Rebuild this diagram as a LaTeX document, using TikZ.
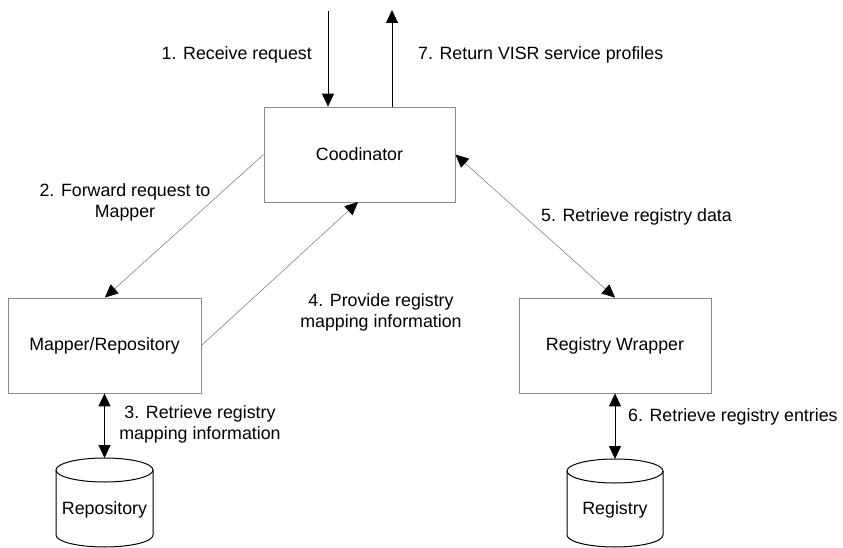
\documentclass[tikz,border=0pt]{standalone}
\usepackage{fontspec}
\setmainfont{Liberation Sans}
\usetikzlibrary{arrows.meta}
\begin{document}
\begin{tikzpicture}[x=1pt,y=-1pt,
  every node/.style={font=\fontsize{17.8}{21}\selectfont},
  box/.style={draw=black!45,line width=0.8pt,rectangle,inner sep=0pt},
  tip/.style={-{Triangle[length=13pt,width=12pt,color=black]}},
  bitip/.style={{Triangle[length=13pt,width=12pt,color=black]}-{Triangle[length=13pt,width=12pt,color=black]}},
  strong/.style={black,line width=1pt},
  faint/.style={draw=black!55,line width=0.5pt},
  lbl/.style={inner sep=0pt,align=center},
  db/.style={black,line width=1pt}]
\useasboundingbox (0,0) rectangle (843,548);

% processing components
\node[box,minimum width=191pt,minimum height=95pt] (coord) at (359.5,154.5) {Coodinator};
\node[box,minimum width=193pt,minimum height=95pt] (mapper) at (104.5,345.5) {Mapper/Repository};
\node[box,minimum width=192pt,minimum height=95pt] (wrapper) at (615,345.5) {Registry Wrapper};

% data stores drawn as cylinders
\draw[db] (56,470) -- (56,535) arc[start angle=180,end angle=360,x radius=48.5pt,y radius=12pt] -- (153,470);
\draw[db] (104.5,470) ellipse[x radius=48.5pt,y radius=12pt];
\coordinate (repotop) at (104.5,458);
\node[lbl] (repo) at (104.5,510) {Repository};

\draw[db] (567,471) -- (567,535) arc[start angle=180,end angle=360,x radius=48pt,y radius=12pt] -- (663,471);
\draw[db] (615,471) ellipse[x radius=48pt,y radius=12pt];
\coordinate (regtop) at (615,459);
\node[lbl] (reg) at (615,510) {Registry};

% external request and response
\coordinate (in) at (328,11);
\coordinate (out) at (392,10);
\draw[strong,tip] (in) -- (in |- coord.north);
\draw[strong,tip] (out |- coord.north) -- (out);

% interactions between components
\draw[faint,tip] (coord.west) -- (105,297.5);
\draw[faint,tip] (mapper.east) -- (358,202);
\draw[faint,bitip] (coord.east) -- (wrapper.north);
\draw[strong,bitip] (mapper.south) -- (repotop);
\draw[strong,bitip] (wrapper.south) -- (regtop);

% step labels
\node[lbl,anchor=east] (l1) at (312,55) {1. Receive request};
\node[lbl,anchor=west] (l7) at (418,55) {7. Return VISR service profiles};
\node[lbl] (l2) at (125,202) {2. Forward request to\\Mapper};
\node[lbl] (l4) at (381,312) {4. Provide registry\\mapping information};
\node[lbl,anchor=west] (l5) at (541,217) {5. Retrieve registry data};
\node[lbl] (l3) at (200,424) {3. Retrieve registry\\mapping information};
\node[lbl,anchor=west] (l6) at (628,417) {6. Retrieve registry entries};
\end{tikzpicture}
\end{document}
